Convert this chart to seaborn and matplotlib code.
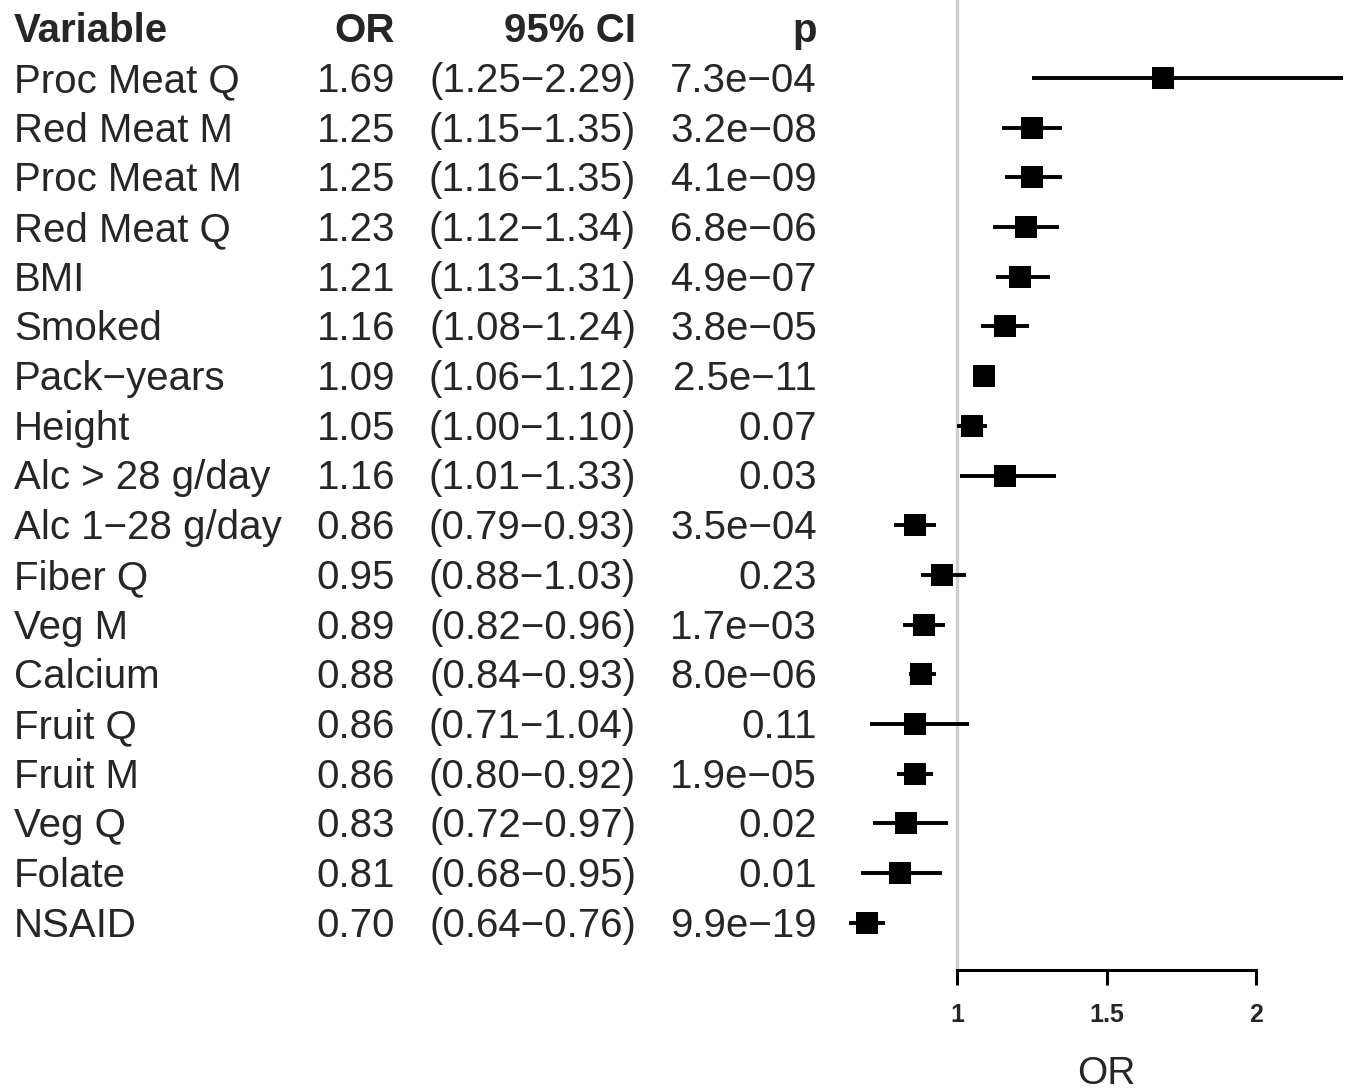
import numpy as np
import pandas as pd
import matplotlib
matplotlib.use("Agg")
import matplotlib.pyplot as plt
import matplotlib.transforms as mtrans
import seaborn as sns

# forest plot data, top row first
variables = ["Proc Meat Q", "Red Meat M", "Proc Meat M", "Red Meat Q", "BMI",
             "Smoked", "Pack\u2212years", "Height", "Alc > 28 g/day",
             "Alc 1\u221228 g/day", "Fiber Q", "Veg M", "Calcium", "Fruit Q",
             "Fruit M", "Veg Q", "Folate", "NSAID"]
odds_ratio = [1.69, 1.25, 1.25, 1.23, 1.21, 1.16, 1.09, 1.05, 1.16,
              0.86, 0.95, 0.89, 0.88, 0.86, 0.86, 0.83, 0.81, 0.70]
ci_low = [1.25, 1.15, 1.16, 1.12, 1.13, 1.08, 1.06, 1.00, 1.01,
          0.79, 0.88, 0.82, 0.84, 0.71, 0.80, 0.72, 0.68, 0.64]
ci_high = [2.29, 1.35, 1.35, 1.34, 1.31, 1.24, 1.12, 1.10, 1.33,
           0.93, 1.03, 0.96, 0.93, 1.04, 0.92, 0.97, 0.95, 0.76]
p_values = ["7.3e\u221204", "3.2e\u221208", "4.1e\u221209", "6.8e\u221206",
            "4.9e\u221207", "3.8e\u221205", "2.5e\u221211", "0.07", "0.03",
            "3.5e\u221204", "0.23", "1.7e\u221203", "8.0e\u221206", "0.11",
            "1.9e\u221205", "0.02", "0.01", "9.9e\u221219"]
headers = ["Variable", "OR", "95% CI", "p"]
x_ticks = [1, 1.5, 2]

sns.set_style("white")
plt.rcParams['font.family'] = ['Liberation Sans', 'DejaVu Sans']

df = pd.DataFrame({"variable": variables, "odds": odds_ratio,
                   "lo": ci_low, "hi": ci_high, "p": p_values})
df["row"] = np.arange(len(df))

W, H = 1352, 1090
fig = plt.figure(figsize=(W / 100, H / 100), dpi=100)
ax = fig.add_axes([840 / W, 120 / H, 512 / W, 970 / H])

ax.axvline(1, color="#cfcfcf", lw=2.4, zorder=0)
ax.hlines(df["row"], df["lo"], df["hi"], color="black", lw=2.8, zorder=2)
sns.scatterplot(data=df, x="odds", y="row", marker="s", s=250, color="black",
                linewidth=0, zorder=3, ax=ax, legend=False)

ax.set_xlim(1 + (840 - 957) / 299, 1 + (1352 - 957) / 299)
ax.set_ylim(17.95, -1.57)

for side in ["top", "right", "left"]:
    ax.spines[side].set_visible(False)
ax.spines["bottom"].set_bounds(1, 2)
ax.spines["bottom"].set_linewidth(2.2)
ax.spines["bottom"].set_color("black")
ax.set_yticks([])
ax.set_ylabel("")
ax.set_xticks(x_ticks, labels=[f"{t:g}" for t in x_ticks])
ax.tick_params(axis="x", bottom=True, direction="out", length=11, width=2.2,
               color="black", pad=13, labelsize=18)
for lab in ax.get_xticklabels():
    lab.set_fontweight("bold")

ax.set_xlabel("OR", fontsize=28)
ax.xaxis.label.set_va("center")
ax.xaxis.set_label_coords(1.5, -104 / 970,
                          transform=mtrans.blended_transform_factory(ax.transData, ax.transAxes))

# text columns to the left of the plot
trans = mtrans.blended_transform_factory(fig.transFigure, ax.transData)
col_x = [14 / W, 395 / W, 636 / W, 817 / W]
col_ha = ["left", "right", "right", "right"]
fs = 29
off = 0.28
for x, ha, h in zip(col_x, col_ha, headers):
    ax.text(x, -1 + off, h, transform=trans, ha=ha, va="baseline",
            fontsize=fs, fontweight="bold")
for _, r in df.iterrows():
    y = r["row"] + off
    ax.text(col_x[0], y, r["variable"], transform=trans, ha="left", va="baseline", fontsize=fs)
    ax.text(col_x[1], y, f"{r['odds']:.2f}", transform=trans, ha="right", va="baseline", fontsize=fs)
    ax.text(col_x[2], y, f"({r['lo']:.2f}\u2212{r['hi']:.2f})", transform=trans,
            ha="right", va="baseline", fontsize=fs)
    ax.text(col_x[3], y, r["p"], transform=trans, ha="right", va="baseline", fontsize=fs)

fig.savefig("out.png", dpi=100, facecolor="white")
